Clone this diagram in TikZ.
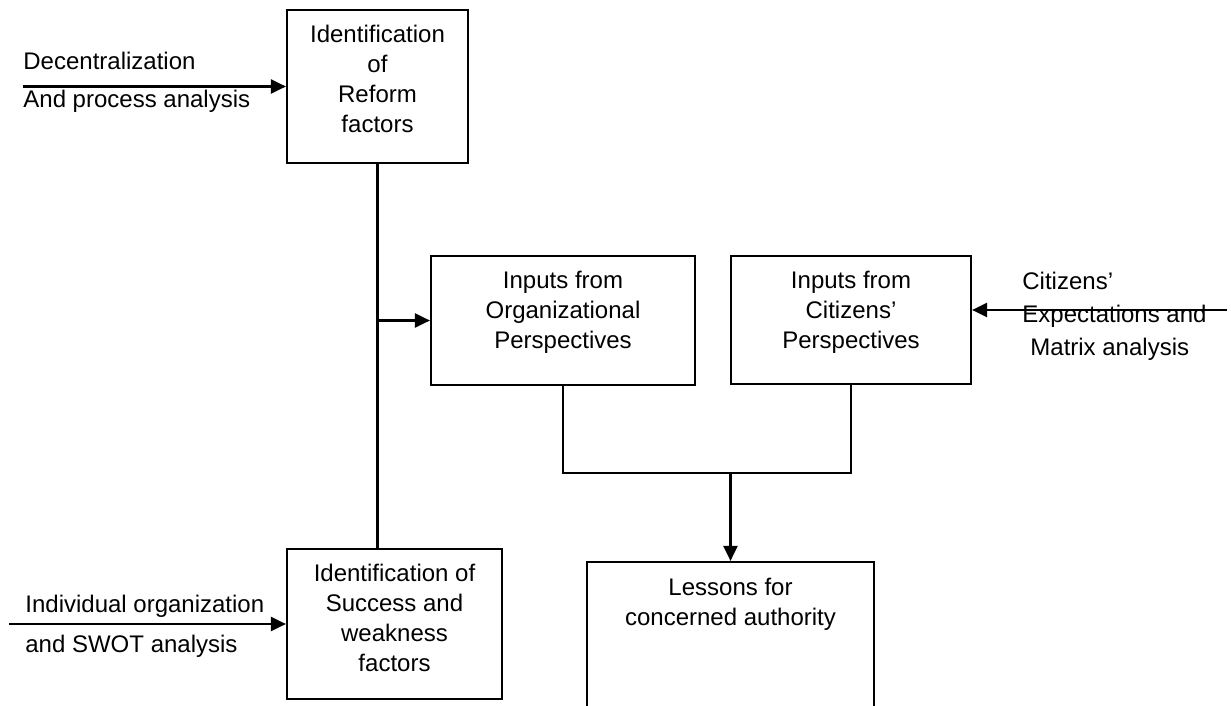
\documentclass[tikz,border=0pt]{standalone}
\usepackage{fontspec}
\setmainfont{Liberation Sans}
\usetikzlibrary{arrows.meta, positioning}

\begin{document}
\begin{tikzpicture}[x=5pt, y=-5pt]
\tikzstyle{stage}=[rectangle, draw=black, line width=1.1pt, inner sep=0pt]
\tikzstyle{caption}=[align=center, inner sep=0pt, font=\fontsize{12}{15}\selectfont]
\tikzstyle{note}=[anchor=base west, inner sep=0pt, font=\fontsize{12}{15}\selectfont]
\tikzstyle{connect}=[-, line width=1.1pt]
\tikzstyle{flow}=[-{Triangle[length=7.5pt, width=7pt]}, line width=1.1pt]
\useasboundingbox (0,0) rectangle (123.1,70.6);
\clip (0,0) rectangle (123.1,70.6);
% boxes
\node[stage, minimum width=90.5pt, minimum height=76.5pt] (reform) at (37.75, 8.65) {};
\node[stage, minimum width=107.5pt, minimum height=75pt] (success) at (39.45, 62.4) {};
\node[stage, minimum width=132pt, minimum height=64.5pt] (org) at (56.3, 32.05) {};
\node[stage, minimum width=120pt, minimum height=64pt] (cit) at (85.1, 32.0) {};
\node[stage, minimum width=143.5pt, minimum height=100pt] (lessons) at (73.05, 66.2) {};
\node[caption, below=8pt of reform.north] (reformtxt) {Identification\\of\\Reform\\factors};
\node[caption, below=8pt of success.north] (successtxt) {Identification of\\Success and\\weakness\\factors};
\node[caption, below=8pt of org.north] (orgtxt) {Inputs from\\Organizational\\Perspectives};
\node[caption, below=8pt of cit.north] (cittxt) {Inputs from\\Citizens’\\Perspectives};
\node[caption, below=8.5pt of lessons.north] (lessonstxt) {Lessons for\\concerned authority};
% side notes
\node[note] (dec1) at (2.3, 7.0) {Decentralization};
\node[note] (dec2) at (2.3, 10.8) {And process analysis};
\node[note] (swot1) at (2.5, 61.2) {Individual organization};
\node[note] (swot2) at (2.5, 65.2) {and SWOT analysis};
\node[note] (citn1) at (102.2, 28.9) {Citizens’};
\node[note] (citn2) at (102.2, 32.2) {Expectations and};
\node[note] (citn3) at (103.0, 35.5) {Matrix analysis};
\coordinate (decin) at (2.3, 8.65);
\coordinate (swotin) at (0.9, 62.4);
\coordinate (citin) at (122.7, 31.0);
\coordinate (merge) at (73.05, 47.3);
% connectors
\path (decin) edge [flow] (reform.west);
\path (swotin) edge [flow] (success.west);
\path (citin) edge [flow] (citin -| cit.east);
\path (reform.south) edge [connect] (reform.south |- success.north);
\path (reform.south |- org.west) edge [flow] (org.west);
\draw[connect] (org.south) |- (merge) -| (cit.south);
\path (merge) edge [flow] (lessons.north);
\end{tikzpicture}
\end{document}
